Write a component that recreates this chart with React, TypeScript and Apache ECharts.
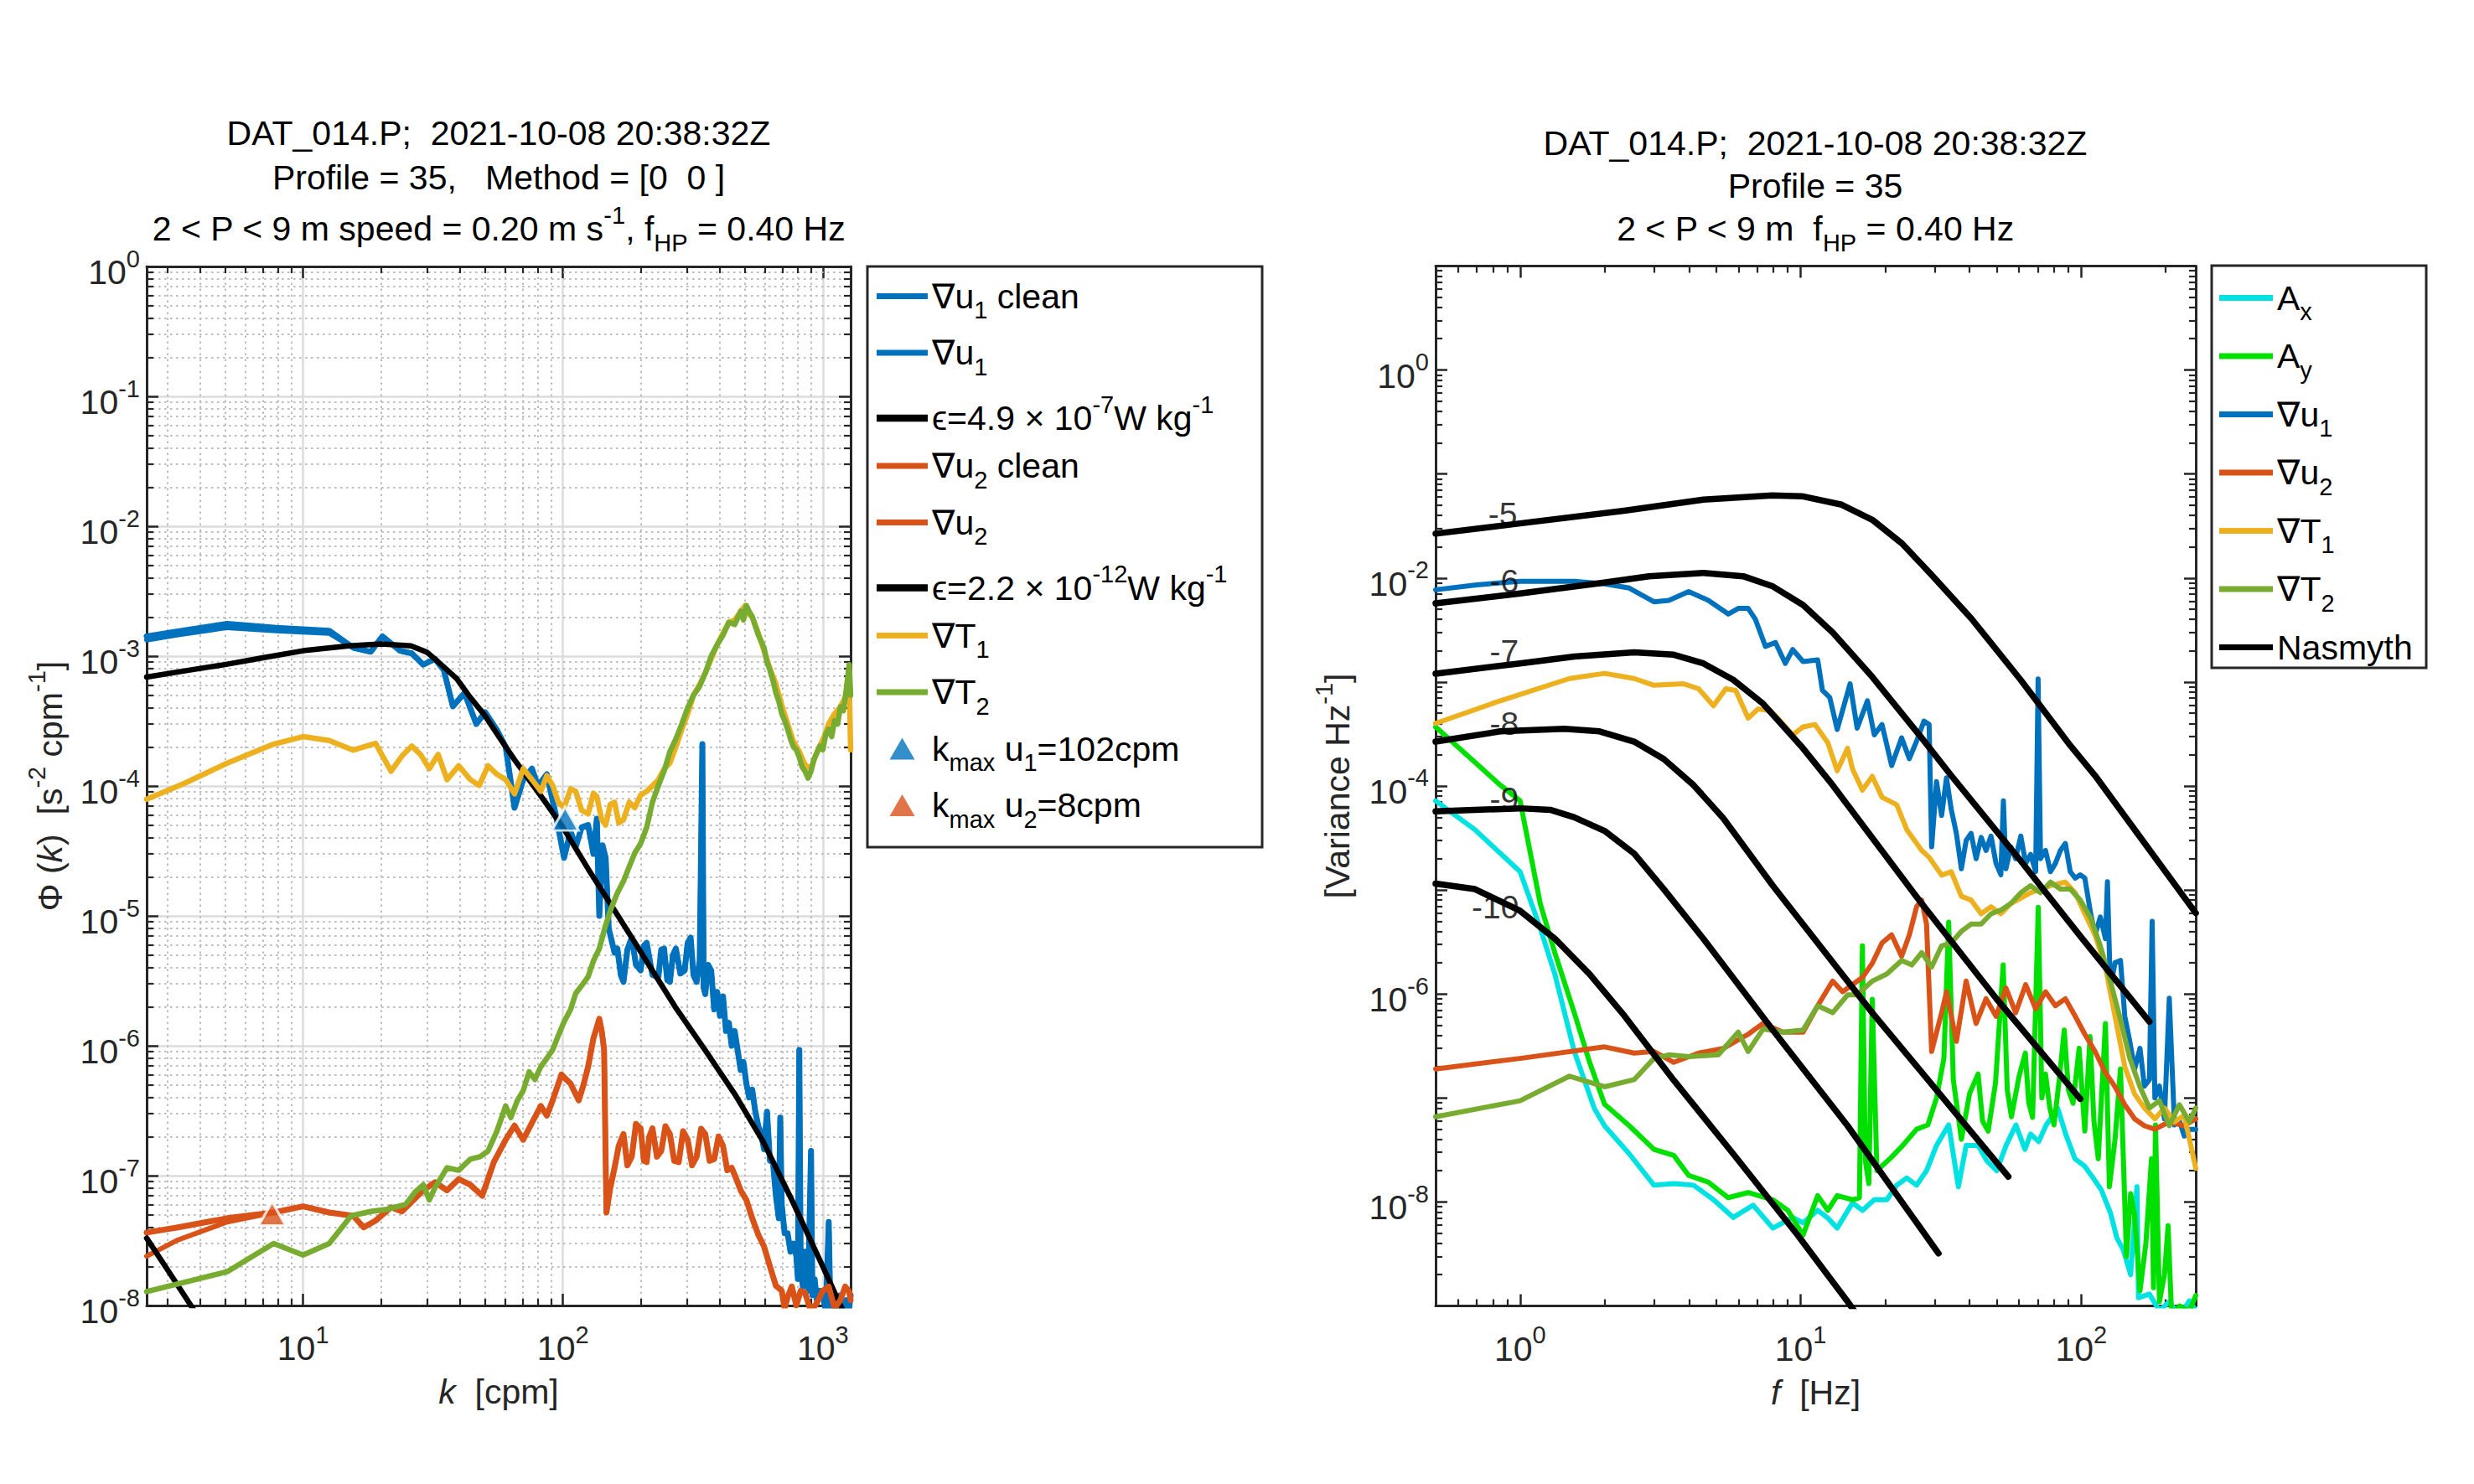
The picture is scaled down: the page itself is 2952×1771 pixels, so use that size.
import React, { useEffect, useRef } from 'react';
import * as echarts from 'echarts';

type Pt = [number, number];

// ---------------- axis ranges & tick labels ----------------
const K_RANGE: Pt = [2.5, 1280];      // k [cpm]
const PHI_RANGE: Pt = [1e-8, 1];      // Phi(k)
const F_RANGE: Pt = [0.5, 256];       // f [Hz]
const VAR_RANGE: Pt = [1e-9, 9.995];  // Variance Hz^-1 (top edge = 10^1)
const K_LABEL_EXP = [1, 2, 3];
const PHI_LABEL_EXP = [0, -1, -2, -3, -4, -5, -6, -7, -8];
const F_LABEL_EXP = [0, 1, 2];
const VAR_LABEL_EXP = [0, -2, -4, -6, -8];
const MINOR_MULT = [2, 3, 4, 5, 6, 7, 8, 9];

// ---------------- left panel: wavenumber spectra ----------------
const gradU1CleanL: Pt[] = [
  [2.5, 1.42e-3], [3.3, 1.55e-3], [5.1, 1.77e-3], [7.9, 1.65e-3], [12.6, 1.57e-3], [15.6, 1.16e-3], [18.2, 1.08e-3],
  [20.2, 1.42e-3], [23.6, 1.10e-3], [26.2, 1.05e-3], [29.0, 8.6e-4], [32.2, 9.5e-4], [34.8, 7.8e-4], [37.7, 4.1e-4],
  [41.8, 5.2e-4], [46.4, 3.0e-4], [50.2, 3.7e-4], [55.7, 2.7e-4], [60.2, 2.0e-4], [65.1, 6.8e-5], [70.3, 1.12e-4],
  [76.0, 1.36e-4], [80.1, 1.0e-4], [86.7, 1.23e-4], [93.7, 6.1e-5], [101, 2.8e-5], [107, 4.5e-5], [112, 3.4e-5],
  [118, 4.8e-5], [125, 5.0e-5], [131, 3.0e-5], [135, 5.6e-5], [138, 1.0e-5], [142, 3.5e-5], [146, 2.8e-5], [150, 8e-6],
  [153, 6.8e-6], [158, 5.2e-6], [162, 5.6e-6], [167, 3.5e-6], [171, 3.1e-6], [177, 5.5e-6], [184, 6.8e-6], [191, 4.2e-6],
  [199, 3.8e-6], [205, 5.9e-6], [210, 6.2e-6], [221, 3.5e-6], [233, 3.4e-6], [239, 5.5e-6], [245, 5.6e-6], [252, 3.2e-6],
  [258, 3.1e-6], [265, 5.0e-6], [272, 5.6e-6], [283, 3.6e-6], [294, 3.8e-6], [302, 6.2e-6], [310, 6.8e-6], [318, 3.5e-6],
  [327, 3.1e-6], [336, 4.5e-6], [344, 2.1e-4], [348, 2.8e-6], [353, 2.5e-6], [362, 4.2e-6], [372, 3.8e-6], [382, 1.9e-6],
  [392, 2.6e-6], [402, 1.7e-6], [413, 2.4e-6], [424, 1.3e-6], [435, 1.5e-6], [446, 1.0e-6], [458, 1.3e-6], [470, 9.3e-7],
  [483, 6.5e-7], [495, 7.5e-7], [508, 5.1e-7], [521, 4.0e-7], [535, 4.6e-7], [550, 3.1e-7], [565, 2.4e-7], [579, 2.1e-7],
  [594, 1.6e-7], [610, 3.1e-7], [626, 1.3e-7], [643, 1.27e-7], [660, 7e-8], [677, 4.7e-8], [686, 2.8e-7], [695, 6e-8],
  [713, 3.6e-8], [732, 3.6e-8], [751, 2.6e-8], [771, 3.0e-8], [791, 2.4e-8], [802, 1.6e-8], [812, 9.3e-7], [822, 2.0e-8],
  [838, 1.4e-8], [855, 2.6e-8], [878, 1.3e-8], [901, 1.55e-7], [912, 1.2e-8], [930, 1.6e-8], [949, 1.1e-8], [974, 1.3e-8],
  [1000, 1.2e-8], [1028, 9e-9], [1054, 4.4e-8], [1070, 9e-9], [1110, 1.05e-8], [1140, 8.5e-9], [1169, 1.2e-8],
  [1200, 9e-9], [1231, 1.1e-8], [1264, 9.5e-9], [1280, 1.2e-8],
];
const gradU1RawLowK: Pt[] = [[2.5, 1.33e-3], [3.3, 1.46e-3], [5.1, 1.66e-3], [7.9, 1.57e-3], [12.6, 1.50e-3]];
const gradU1RawL: Pt[] = [...gradU1RawLowK, ...gradU1CleanL.slice(5)];

const nasmythEps1L: Pt[] = [
  [2.5, 6.9e-4], [3.5, 7.7e-4], [5.0, 8.6e-4], [7.0, 9.7e-4], [10, 1.10e-3], [15, 1.2e-3], [20, 1.24e-3], [26, 1.20e-3],
  [30, 1.07e-3], [34, 8.6e-4], [39, 6.7e-4], [44, 4.8e-4], [50, 3.5e-4], [57, 2.36e-4], [65, 1.6e-4], [74, 1.12e-4],
  [86, 7.4e-5], [100, 4.8e-5], [125, 2.3e-5], [162, 1.02e-5], [208, 4.6e-6], [270, 2.0e-6], [352, 9.3e-7], [460, 4.2e-7],
  [592, 1.8e-7], [760, 6.5e-8], [1000, 2.0e-8], [1170, 1.0e-8], [1280, 7e-9],
];
const nasmythEps2L: Pt[] = [[2.5, 3.3e-8], [3.0, 1.9e-8], [3.7, 1.0e-8], [4.5, 5.5e-9]];

const gradU2CleanL: Pt[] = [
  [2.5, 3.65e-8], [3.3, 4.0e-8], [5.1, 4.7e-8], [7.7, 5.2e-8], [10, 5.8e-8], [12.6, 5.2e-8], [15.6, 4.9e-8], [17.1, 4.0e-8],
  [19, 4.5e-8], [21.8, 5.7e-8], [24, 5.3e-8], [26.2, 6.3e-8], [29, 7.7e-8], [32.2, 8.9e-8], [35.8, 7.7e-8], [39.7, 9.4e-8],
  [44, 8.5e-8], [48.9, 7.0e-8], [54.2, 1.27e-7], [60.2, 1.89e-7], [65.1, 2.43e-7], [70.3, 1.89e-7], [76, 2.55e-7],
  [82.2, 3.44e-7], [86.7, 2.9e-7], [91.3, 3.8e-7], [98.7, 6.0e-7], [103, 5.5e-7], [107, 5.1e-7], [115, 3.8e-7], [120, 5.0e-7],
  [125, 6.9e-7], [131, 1.14e-6], [138, 1.61e-6], [141, 1.3e-6], [144, 9.3e-7], [147, 5.2e-8], [152, 8e-8], [158, 1.15e-7],
  [164, 1.7e-7], [171, 2.09e-7], [177, 1.2e-7], [184, 1.4e-7], [191, 2.5e-7], [199, 2.31e-7], [205, 1.3e-7], [210, 1.27e-7],
  [215, 2.0e-7], [221, 2.31e-7], [230, 1.4e-7], [239, 1.55e-7], [248, 2.4e-7], [258, 2.09e-7], [268, 1.3e-7], [279, 1.27e-7],
  [290, 2.2e-7], [302, 1.89e-7], [314, 1.2e-7], [327, 1.4e-7], [340, 2.3e-7], [353, 2.09e-7], [367, 1.3e-7], [382, 1.34e-7],
  [397, 2.0e-7], [413, 1.7e-7], [429, 1.1e-7], [446, 1.15e-7], [464, 9.5e-8], [483, 7.7e-8], [508, 6.5e-8], [535, 4.7e-8],
  [565, 3.5e-8], [594, 2.85e-8], [626, 2.0e-8], [660, 1.42e-8], [695, 1.3e-8], [713, 9.5e-9], [732, 1.16e-8], [760, 1.4e-8],
  [791, 1.0e-8], [822, 1.3e-8], [855, 1.25e-8], [900, 9e-9], [949, 1.05e-8], [1000, 1.3e-8], [1054, 1.4e-8], [1110, 9.5e-9],
  [1169, 1.1e-8], [1220, 1.4e-8], [1264, 1.28e-8], [1280, 1.1e-8],
];
const gradU2RawLowK: Pt[] = [[2.5, 2.4e-8], [3.3, 3.2e-8], [5.1, 4.4e-8]];
const gradU2RawL: Pt[] = [...gradU2RawLowK, ...gradU2CleanL.slice(3)];

const gradT1L: Pt[] = [
  [2.5, 7.9e-5], [3.5, 1.05e-4], [5.1, 1.5e-4], [7.7, 2.1e-4], [10, 2.4e-4], [12.6, 2.24e-4], [15.6, 1.89e-4], [19, 2.13e-4],
  [21.8, 1.3e-4], [24, 1.7e-4], [26.2, 2.03e-4], [28.3, 1.75e-4], [30.6, 1.36e-4], [33.1, 1.75e-4], [35.8, 1.12e-4],
  [39.7, 1.43e-4], [44.0, 1.12e-4], [47.6, 1.01e-4], [51.5, 1.43e-4], [55.7, 1.23e-4], [60.2, 1.12e-4], [65.1, 8.7e-5],
  [70.3, 1.36e-4], [76.0, 1.12e-4], [82.2, 9.1e-5], [86.7, 1.2e-4], [91.3, 1.01e-4], [96, 7.5e-5], [101, 6.8e-5],
  [107, 9.5e-5], [112, 9.1e-5], [118, 6.5e-5], [125, 6.1e-5], [131, 8.8e-5], [135, 8.3e-5], [141, 5.5e-5], [146, 5.0e-5],
  [152, 7.2e-5], [158, 7.5e-5], [164, 5.2e-5], [171, 5.5e-5], [180, 7.5e-5], [189, 6.8e-5], [199, 8.5e-5], [210, 9.1e-5],
  [221, 1.0e-4], [233, 1.12e-4], [245, 1.35e-4], [258, 1.5e-4], [272, 2.0e-4], [287, 2.74e-4], [302, 3.6e-4], [318, 5.0e-4],
  [335, 6.0e-4], [353, 7.4e-4], [372, 9.5e-4], [392, 1.22e-3], [413, 1.5e-3], [435, 1.82e-3], [458, 1.9e-3], [483, 2.2e-3],
  [503, 2.45e-3], [520, 2.1e-3], [535, 2.01e-3], [565, 1.5e-3], [594, 1.10e-3], [626, 8.0e-4], [660, 6.1e-4], [695, 4.2e-4],
  [732, 3.02e-4], [771, 2.2e-4], [812, 1.84e-4], [855, 1.45e-4], [901, 1.36e-4], [937, 1.7e-4], [974, 2.03e-4],
  [1013, 2.4e-4], [1054, 3.02e-4], [1110, 3.6e-4], [1169, 4.07e-4], [1231, 5.0e-4], [1264, 6.1e-4], [1280, 1.9e-4],
];
const gradT2L: Pt[] = [
  [2.5, 1.28e-8], [5.1, 1.82e-8], [7.7, 3.0e-8], [10, 2.45e-8], [12.6, 3.0e-8], [15.3, 4.9e-8], [18.2, 5.3e-8], [21, 5.5e-8],
  [24.8, 6.0e-8], [27, 7.5e-8], [29, 8.5e-8], [30.6, 6.5e-8], [32.2, 8.1e-8], [35.8, 1.15e-7], [39.7, 1.1e-7], [44, 1.34e-7],
  [48, 1.4e-7], [51.5, 1.55e-7], [55.7, 2.2e-7], [60.2, 3.44e-7], [63, 2.8e-7], [66.8, 3.8e-7], [70.3, 4.5e-7], [74.1, 6.3e-7],
  [78, 5.5e-7], [82.2, 6.9e-7], [86.7, 8.0e-7], [91.3, 9.3e-7], [96, 1.2e-6], [101, 1.53e-6], [107, 1.9e-6], [112, 2.53e-6],
  [118, 2.9e-6], [125, 3.4e-6], [131, 4.5e-6], [138, 5.6e-6], [146, 8.5e-6], [153, 1.13e-5], [162, 1.5e-5], [171, 1.85e-5],
  [180, 2.4e-5], [189, 3.05e-5], [199, 3.6e-5], [210, 4.8e-5], [221, 7.5e-5], [233, 1.01e-4], [245, 1.3e-4], [258, 1.84e-4],
  [272, 2.3e-4], [287, 3.02e-4], [302, 4.0e-4], [318, 5.0e-4], [335, 5.8e-4], [353, 7.4e-4], [372, 1.0e-3], [392, 1.22e-3],
  [413, 1.45e-3], [435, 1.82e-3], [458, 1.75e-3], [483, 2.22e-3], [495, 1.9e-3], [508, 2.45e-3], [521, 2.2e-3], [535, 2.01e-3],
  [550, 1.7e-3], [565, 1.45e-3], [579, 1.3e-3], [594, 1.16e-3], [610, 9.0e-4], [626, 7.8e-4], [643, 6.5e-4], [660, 5.2e-4],
  [677, 4.5e-4], [695, 3.6e-4], [713, 3.2e-4], [732, 2.74e-4], [751, 2.3e-4], [771, 2.0e-4], [791, 1.9e-4], [812, 1.66e-4],
  [833, 1.4e-4], [855, 1.3e-4], [878, 1.15e-4], [901, 1.3e-4], [924, 1.6e-4], [949, 1.8e-4], [974, 2.03e-4], [1000, 1.9e-4],
  [1027, 2.5e-4], [1054, 2.74e-4], [1082, 2.4e-4], [1110, 3.2e-4], [1140, 3.0e-4], [1169, 4.07e-4], [1200, 3.8e-4],
  [1231, 5.5e-4], [1264, 8.6e-4], [1280, 5.0e-4],
];
const kmaxU1: Pt[] = [[102, 5.6e-5]];
const kmaxU2: Pt[] = [[7.6, 5.1e-8]];

// ---------------- right panel: frequency spectra ----------------
const accXR: Pt[] = [
  [0.5, 7.2e-5], [0.69, 3.8e-5], [1, 1.5e-5], [1.18, 4.3e-6], [1.33, 1.55e-6], [1.56, 2.8e-7], [1.84, 7.9e-8], [2.0, 5.4e-8],
  [2.45, 2.9e-8], [3.0, 1.45e-8], [3.53, 1.5e-8], [4.15, 1.45e-8], [4.89, 1.05e-8], [5.75, 7.1e-9], [6.77, 9.3e-9],
  [7.96, 5.6e-9], [9.37, 7.1e-9], [10.2, 6.3e-9], [11.5, 8.3e-9], [12.5, 7.0e-9], [13.5, 5.6e-9], [15.3, 9.8e-9],
  [16.6, 8.3e-9], [18.3, 1.05e-8], [20.3, 1.05e-8], [22.0, 1.45e-8], [23.9, 1.7e-8], [25.9, 1.45e-8], [28.1, 2.0e-8],
  [30.5, 3.5e-8], [33.7, 5.5e-8], [36.5, 1.4e-8], [38.9, 3.5e-8], [42.9, 3.5e-8], [46, 2.5e-8], [50, 2.0e-8], [54, 3.5e-8],
  [58.5, 5.5e-8], [63, 3.2e-8], [66, 4.5e-8], [70.5, 3.8e-8], [75, 5.5e-8], [82.6, 7.9e-8], [88, 4.5e-8], [95, 2.6e-8],
  [103, 2.2e-8], [111, 1.66e-8], [118, 1.3e-8], [127, 7.9e-9], [134, 4.5e-9], [141, 3.5e-9], [150, 2.0e-9], [158, 1.4e-8],
  [160, 1.2e-9], [175, 1.3e-9], [190, 9e-10], [206, 1.1e-9], [224, 8e-10], [243, 1.12e-9], [256, 9e-10],
];
const accYR: Pt[] = [
  [0.5, 3.7e-4], [0.85, 1.02e-4], [1, 7.2e-5], [1.18, 7.4e-6], [1.33, 2.5e-6], [1.56, 6.6e-7], [1.77, 2.2e-7], [2.0, 8.7e-8],
  [2.45, 5.4e-8], [3.0, 3.2e-8], [3.53, 2.8e-8], [3.99, 1.8e-8], [4.69, 1.55e-8], [5.52, 1.1e-8], [6.5, 1.23e-8],
  [7.96, 1.05e-8], [9.0, 8.3e-9], [10.2, 4.8e-9], [11.5, 1.15e-8], [12.5, 8.3e-9], [13.5, 1.15e-8], [15.3, 1.05e-8],
  [16.2, 1.1e-8], [16.6, 2.9e-6], [17.0, 2.5e-8], [17.5, 1.5e-8], [18.0, 8.9e-7], [18.7, 2.0e-8], [21.1, 2.7e-8],
  [22.9, 3.4e-8], [25.9, 5.0e-8], [28.4, 5.5e-8], [30.5, 1.0e-7], [32.4, 2.4e-7], [33.7, 4.9e-6], [35.0, 1.5e-7],
  [37.4, 4.0e-8], [40, 1.1e-7], [42.9, 1.7e-7], [44.5, 6e-8], [46.6, 4.8e-8], [49.5, 1.4e-7], [52.7, 1.9e-6], [54.5, 1.2e-7],
  [56.4, 6.6e-8], [60, 1.6e-7], [63.2, 2.7e-7], [65, 9e-8], [67.1, 6.5e-8], [70.3, 6.8e-6], [72.4, 1.0e-7], [74.6, 1.7e-7],
  [77.3, 8e-8], [80, 5.5e-8], [83.5, 1.5e-7], [87.0, 4.5e-7], [90, 1.2e-7], [93.5, 8.9e-8], [98.3, 3.0e-7], [103, 4.8e-8],
  [107.5, 3.9e-7], [111, 6e-8], [115, 2.6e-8], [122, 5.2e-7], [126, 1.4e-8], [132, 4e-8], [138, 1.9e-7], [145, 3e-9],
  [150, 1.2e-8], [155, 7.4e-9], [162, 1.4e-9], [170, 4e-9], [178, 2.6e-8], [181, 1.5e-9], [184, 5.5e-8], [190, 1.1e-9],
  [198, 2e-9], [204, 5.9e-9], [210, 8e-10], [224, 1.0e-9], [243, 8.9e-10], [256, 1.26e-9],
];
const gradU1R: Pt[] = [
  [0.5, 7.7e-3], [0.7, 8.6e-3], [1, 9.3e-3], [1.56, 9.3e-3], [2.0, 8.8e-3], [2.45, 8.0e-3], [3.0, 5.9e-3], [3.39, 6.1e-3],
  [3.99, 7.4e-3], [4.69, 6.1e-3], [5.52, 4.5e-3], [5.99, 5.1e-3], [6.5, 5.1e-3], [6.9, 4.0e-3], [7.49, 2.2e-3], [8.13, 2.4e-3],
  [8.82, 1.51e-3], [9.37, 2.05e-3], [10.2, 1.57e-3], [11.5, 1.63e-3], [11.96, 8.3e-4], [12.7, 7.1e-4], [13.5, 3.5e-4],
  [15.0, 9.6e-4], [15.9, 3.6e-4], [17.3, 6.6e-4], [18.3, 3.1e-4], [19.5, 3.9e-4], [21.1, 1.57e-4], [22.9, 2.9e-4],
  [24.4, 1.83e-4], [25.9, 2.7e-4], [27.5, 4.2e-4], [28.7, 3.9e-4], [29.3, 2.6e-5], [30.5, 1.1e-4], [31.8, 5.2e-5],
  [33.1, 1.2e-4], [34.4, 6.0e-5], [35.9, 3.5e-5], [37.4, 1.6e-5], [38.9, 3.0e-5], [40.5, 3.5e-5], [42.2, 2.0e-5],
  [44.0, 3.2e-5], [45.8, 2.4e-5], [47.7, 3.3e-5], [49.7, 1.8e-5], [51.7, 1.4e-5], [52.8, 7.2e-5], [53.9, 1.6e-5],
  [56.1, 2.6e-5], [58.4, 2.0e-5], [60.9, 3.3e-5], [63.4, 1.8e-5], [66.0, 2.2e-5], [68.8, 1.5e-5], [70.2, 1.07e-3],
  [71.6, 2.0e-5], [74.6, 2.4e-5], [77.7, 1.5e-5], [80.9, 1.8e-5], [84.3, 2.4e-5], [87.8, 2.8e-5], [91.4, 1.5e-5],
  [95.2, 1.3e-5], [99.2, 1.4e-5], [103, 1.3e-5], [108, 6.0e-6], [112, 3.7e-6], [117, 5.5e-6], [122, 3.4e-6], [124, 1.2e-5],
  [127, 1.15e-6], [132, 2.0e-6], [138, 2.1e-6], [143, 6.1e-7], [149, 3.5e-7], [155, 1.9e-7], [162, 3.0e-7], [168, 1.3e-7],
  [175, 1.5e-7], [179, 5.0e-6], [183, 1.0e-7], [190, 1.3e-7], [198, 6.3e-8], [206, 9.1e-7], [215, 5.5e-8], [224, 6.0e-8],
  [233, 4.3e-8], [243, 5.0e-8], [256, 5.0e-8],
];
const gradU2R: Pt[] = [
  [0.5, 1.9e-7], [1, 2.4e-7], [2.0, 3.1e-7], [2.55, 2.7e-7], [3.0, 2.8e-7], [3.53, 2.2e-7], [4.33, 2.7e-7], [5.3, 3.0e-7],
  [6.5, 4.1e-7], [7.34, 5.2e-7], [8.64, 4.3e-7], [10.2, 4.3e-7], [11.5, 7.7e-7], [13.0, 1.33e-6], [14.1, 1.05e-6],
  [15.3, 1.23e-6], [16.6, 1.44e-6], [18.0, 1.97e-6], [19.5, 3.1e-6], [21.1, 3.7e-6], [22.9, 2.3e-6], [24.4, 3.7e-6],
  [25.9, 6.9e-6], [27.0, 8.0e-6], [28.1, 4.7e-6], [29.3, 2.8e-7], [31.8, 6.6e-7], [33.1, 1.05e-6], [35.9, 3.5e-7],
  [38.9, 1.33e-6], [42.2, 5.2e-7], [45.8, 9.0e-7], [49.7, 6.1e-7], [53.9, 1.14e-6], [58.4, 6.6e-7], [63.4, 1.23e-6],
  [68.8, 7.2e-7], [74.6, 1.05e-6], [80.9, 7.7e-7], [87.8, 9.0e-7], [95.2, 6.1e-7], [103, 4.1e-7], [112, 2.8e-7],
  [122, 1.75e-7], [132, 1.28e-7], [143, 8.6e-8], [155, 6.3e-8], [168, 5.4e-8], [183, 5.0e-8], [206, 5.9e-8], [233, 5.4e-8],
  [256, 6.3e-8],
];
const gradT1R: Pt[] = [
  [0.5, 4.0e-4], [0.85, 6.6e-4], [1.5, 1.08e-3], [2.0, 1.21e-3], [2.55, 1.08e-3], [3.0, 9.3e-4], [3.83, 9.6e-4], [4.33, 8.6e-4],
  [4.89, 5.9e-4], [5.41, 8.6e-4], [5.87, 8.3e-4], [6.5, 4.5e-4], [7.05, 5.5e-4], [7.8, 5.3e-4], [8.47, 4.2e-4], [9.37, 3.1e-4],
  [10.2, 3.7e-4], [11.25, 3.9e-4], [12.5, 2.6e-4], [13.5, 1.4e-4], [14.7, 2.3e-4], [15.3, 1.46e-4], [16.6, 9.1e-5],
  [18.0, 1.24e-4], [19.5, 7.8e-5], [22.0, 6.6e-5], [23.9, 3.8e-5], [27.0, 2.4e-5], [28.7, 2.06e-5], [31.8, 1.39e-5],
  [34.4, 1.5e-5], [37.4, 8.7e-6], [40.5, 8.0e-6], [44.0, 5.9e-6], [47.7, 6.9e-6], [51.7, 5.9e-6], [56.1, 7.4e-6],
  [66.0, 9.4e-6], [77.7, 1.1e-5], [87.8, 1.19e-5], [95.2, 9.4e-6], [103, 5.9e-6], [112, 3.7e-6], [122, 1.8e-6], [132, 6.1e-7],
  [143, 2.0e-7], [155, 1.09e-7], [168, 8.0e-8], [183, 6.3e-8], [198, 8.0e-8], [215, 5.9e-8], [233, 6.8e-8], [256, 2.1e-8],
];
const gradT2R: Pt[] = [
  [0.5, 6.6e-8], [1, 9.4e-8], [1.5, 1.62e-7], [2.0, 1.28e-7], [2.55, 1.5e-7], [3.0, 2.4e-7], [3.39, 2.6e-7], [3.99, 2.5e-7],
  [5.09, 2.6e-7], [5.99, 4.3e-7], [6.5, 2.8e-7], [7.34, 4.6e-7], [8.64, 4.3e-7], [10.2, 4.5e-7], [11.5, 7.7e-7], [13.0, 6.6e-7],
  [14.7, 9.8e-7], [15.9, 9.8e-7], [18.0, 1.33e-6], [20.3, 1.56e-6], [22.9, 2.1e-6], [24.9, 1.9e-6], [27.0, 2.5e-6],
  [29.3, 1.82e-6], [31.8, 2.9e-6], [34.4, 3.1e-6], [37.4, 4.0e-6], [40.5, 4.7e-6], [44.0, 4.7e-6], [47.7, 5.9e-6],
  [51.7, 6.4e-6], [56.1, 7.4e-6], [60.9, 9.4e-6], [66.0, 1.1e-5], [71.6, 9.4e-6], [77.7, 1.19e-5], [84.3, 1.02e-5],
  [91.4, 1.02e-5], [99.2, 8.0e-6], [108, 5.4e-6], [117, 2.9e-6], [127, 1.33e-6], [137, 6.1e-7], [149, 2.4e-7], [162, 1.28e-7],
  [175, 8.0e-8], [190, 9.4e-8], [206, 5.4e-8], [224, 8.6e-8], [243, 5.9e-8], [256, 8.0e-8],
];
const nasmyth5R: Pt[] = [
  [0.5, 0.0267], [1, 0.0335], [2.35, 0.0443], [4.5, 0.0568], [7.9, 0.0621], [10.1, 0.0612], [14, 0.0507], [18, 0.0363],
  [23, 0.0214], [29.3, 0.0107], [40.6, 4.07e-3], [60.8, 1.05e-3], [91.4, 2.45e-4], [112, 1.26e-4], [256, 6.0e-6],
];
const nasmyth6R: Pt[] = [
  [0.5, 5.7e-3], [1, 7.1e-3], [1.92, 8.9e-3], [2.88, 0.0104], [4.5, 0.0112], [6.24, 0.0104], [7.96, 8.3e-3], [10.2, 5.5e-3],
  [13, 3.0e-3], [18, 1.12e-3], [27, 2.9e-4], [34.4, 1.26e-4], [60.9, 1.9e-5], [99.2, 3.6e-6], [175, 5.4e-7],
];
const nasmyth7R: Pt[] = [
  [0.5, 1.2e-3], [1, 1.51e-3], [1.56, 1.76e-3], [2.55, 1.93e-3], [3.53, 1.83e-3], [4.5, 1.51e-3], [5.75, 1.05e-3],
  [7.34, 6.2e-4], [10.2, 2.3e-4], [13, 1.02e-4], [27, 7.4e-6], [49.7, 9.1e-7], [99.2, 9.8e-8],
];
const nasmyth8R: Pt[] = [
  [0.5, 2.67e-4], [0.85, 3.35e-4], [1.44, 3.55e-4], [1.92, 3.35e-4], [2.55, 2.67e-4], [3.25, 1.82e-4], [4.15, 1.02e-4],
  [5.3, 4.9e-5], [7.96, 1.1e-5], [18, 6.6e-7], [55, 1.75e-8],
];
const nasmyth9R: Pt[] = [
  [0.5, 5.7e-5], [1, 6.1e-5], [1.28, 5.9e-5], [1.56, 5.0e-5], [2.0, 3.7e-5], [2.55, 2.24e-5], [3.25, 1.02e-5], [4.5, 3.4e-6],
  [7.96, 4.5e-7], [14.7, 5.4e-8], [31, 3.2e-9],
];
const nasmyth10R: Pt[] = [
  [0.5, 1.15e-5], [0.69, 1.02e-5], [1, 6.3e-6], [1.33, 3.4e-6], [1.77, 1.55e-6], [2.35, 6.2e-7], [3.53, 1.48e-7],
  [5.75, 2.9e-8], [9.76, 4.8e-9], [14.7, 1.1e-9], [16, 8e-10],
];
const nasmythLabelText = ['-5', '-6', '-7', '-8', '-9', '-10'];
const nasmythLabelF = [0.867, 0.878, 0.878, 0.878, 0.878, 0.816];
const nasmythLabelV = [0.0413, 9.4e-3, 1.97e-3, 4.0e-4, 7.5e-5, 6.9e-6];

// ---------------- styling ----------------
const FONT = '"Liberation Sans", Arial, Helvetica, "DejaVu Sans", sans-serif';
const AX = '#262626';
const BLUE = '#0072BD', RED = '#D95319', YEL = '#EDB120', GRN = '#77AC30', CYAN = '#00e2e2', LIME = '#00e000', BLK = '#000000';

const G0 = { left: 175, top: 318, width: 840, height: 1240 };
const G1 = { left: 1713, top: 317.5, width: 907, height: 1241 };

function richSet(color: string) {
  const base = { fontFamily: FONT, color, fontWeight: 'normal' };
  return {
    b: { ...base, fontSize: 41, lineHeight: 62 },
    i: { ...base, fontSize: 41, lineHeight: 62, fontStyle: 'italic' },
    sup: { ...base, fontSize: 29, lineHeight: 29, verticalAlign: 'top' },
    sub: { ...base, fontSize: 29, lineHeight: 29, verticalAlign: 'bottom' },
  };
}

const LEGEND_TEXT: Record<string, string> = {
  gu1c: '{b|∇u}{sub|1}{b| clean}',
  gu1: '{b|∇u}{sub|1}',
  eps1: '{b|ϵ=4.9 × 10}{sup|-7}{b|W kg}{sup|-1}',
  gu2c: '{b|∇u}{sub|2}{b| clean}',
  gu2: '{b|∇u}{sub|2}',
  eps2: '{b|ϵ=2.2 × 10}{sup|-12}{b|W kg}{sup|-1}',
  gt1: '{b|∇T}{sub|1}',
  gt2: '{b|∇T}{sub|2}',
  km1: '{b|k}{sub|max}{b| u}{sub|1}{b|=102cpm}',
  km2: '{b|k}{sub|max}{b| u}{sub|2}{b|=8cpm}',
  ax: '{b|A}{sub|x}',
  ay: '{b|A}{sub|y}',
  ru1: '{b|∇u}{sub|1}',
  ru2: '{b|∇u}{sub|2}',
  rt1: '{b|∇T}{sub|1}',
  rt2: '{b|∇T}{sub|2}',
  nas: '{b|Nasmyth}',
};

const TITLE_L = [
  '{b|DAT_014.P;  2021-10-08 20:38:32Z}',
  '{b|Profile = 35,   Method = [0  0 ]}',
  '{b|2 < P < 9 m speed = 0.20 m s}{sup|-1}{b|, f}{sub|HP}{b| = 0.40 Hz}',
];
const TITLE_R = [
  '{b|DAT_014.P;  2021-10-08 20:38:32Z}',
  '{b|Profile = 35}',
  '{b|2 < P < 9 m  f}{sub|HP}{b| = 0.40 Hz}',
];

function minorVals(r: Pt): number[] {
  const out: number[] = [];
  const e0 = Math.floor(Math.log10(r[0]));
  const e1 = Math.ceil(Math.log10(r[1]));
  for (let e = e0; e <= e1; e++) {
    for (const m of MINOR_MULT) {
      const v = +(m * Math.pow(10, e)).toPrecision(6);
      if (v > r[0] * 1.001 && v < r[1] / 1.001) out.push(v);
    }
  }
  return out;
}

function tickSegs(xr: Pt, yr: Pt, g: { width: number; height: number }, lenPx: number) {
  const dx = Math.pow(10, (lenPx * Math.log10(xr[1] / xr[0])) / g.width);
  const dy = Math.pow(10, (lenPx * Math.log10(yr[1] / yr[0])) / g.height);
  const x0 = xr[0] * 1.0005, x1 = xr[1] / 1.0005, y0 = yr[0] * 1.0005, y1 = yr[1] / 1.0005;
  const segs: any[] = [];
  for (const x of minorVals(xr)) {
    segs.push([{ coord: [x, y0] }, { coord: [x, y0 * dy] }]);
    segs.push([{ coord: [x, y1] }, { coord: [x, y1 / dy] }]);
  }
  for (const y of minorVals(yr)) {
    segs.push([{ coord: [x0, y] }, { coord: [x0 * dx, y] }]);
    segs.push([{ coord: [x1, y] }, { coord: [x1 / dx, y] }]);
  }
  return segs;
}

function gridSegs(xr: Pt, yr: Pt) {
  const x0 = xr[0] * 1.0005, x1 = xr[1] / 1.0005, y0 = yr[0] * 1.0005, y1 = yr[1] / 1.0005;
  const segs: any[] = [];
  for (const x of minorVals(xr)) segs.push([{ coord: [x, y0] }, { coord: [x, y1] }]);
  for (const y of minorVals(yr)) segs.push([{ coord: [x0, y] }, { coord: [x1, y] }]);
  return segs;
}

function logAxis(o: {
  grid: number; pos: string; range: Pt; exps?: number[]; name?: string; nameGap?: number; rotate?: boolean; split?: boolean; isY?: boolean;
}) {
  const ax: any = {
    type: 'log', logBase: 10, gridIndex: o.grid, position: o.pos, min: o.range[0], max: o.range[1], splitNumber: 10,
    axisLine: { show: true, onZero: false, lineStyle: { color: AX, width: 3 } },
    axisTick: { show: true, inside: true, length: 14, lineStyle: { color: AX, width: 2.5 } },
    minorTick: { show: false },
    minorSplitLine: { show: false },
    splitLine: { show: !!o.split, lineStyle: { color: '#dcdcdc', width: 2.5, type: 'solid' } },
    axisLabel: { show: false },
    axisPointer: { show: false },
    silent: true,
  };
  if (o.exps) {
    const exps = o.exps;
    ax.axisLabel = {
      show: true,
      margin: o.isY ? 8 : 20,
      padding: o.isY ? [14, 0, 0, 0] : 0,
      formatter: (v: number) => {
        const e = Math.log10(v);
        const r = Math.round(e);
        if (Math.abs(e - r) > 1e-3 || !exps.includes(r)) return '';
        return `{b|10}{sup|${r === 0 ? 0 : r}}`;
      },
      rich: richSet(AX),
    };
  }
  if (o.name) {
    ax.name = o.name;
    ax.nameLocation = 'middle';
    ax.nameGap = o.nameGap;
    ax.nameRotate = o.rotate ? 90 : 0;
    ax.nameMoveOverlap = false;
    ax.nameTextStyle = { rich: richSet(AX) };
  }
  return ax;
}

function ln(name: string, data: Pt[], color: string, width: number, g: number, z = 2) {
  return {
    type: 'line', name, data, xAxisIndex: g * 2, yAxisIndex: g * 2, color,
    showSymbol: false, symbol: 'none', clip: true, z, silent: true,
    lineStyle: { color, width, join: 'round', cap: 'round' },
    itemStyle: { color },
    emphasis: { disabled: true },
  };
}

function tri(name: string, data: Pt[], color: string) {
  return {
    type: 'scatter', name, data, xAxisIndex: 0, yAxisIndex: 0, symbol: 'triangle', symbolSize: [32, 28], z: 4, silent: true,
    itemStyle: { color, borderColor: '#ffffff', borderWidth: 3 },
    emphasis: { disabled: true },
  };
}

function segSeries(name: string, g: number, segs: any[], lineStyle: any) {
  return {
    type: 'line', name, data: [], xAxisIndex: g * 2, yAxisIndex: g * 2, silent: true, symbol: 'none',
    markLine: {
      silent: true, symbol: ['none', 'none'], precision: 20, z: 1, animation: false,
      label: { show: false }, emphasis: { disabled: true }, lineStyle, data: segs,
    },
  };
}

const LINE_ICON_L = 'path://M0 0H61V7H0Z';
const BLACK_ICON_L = 'path://M0 0H61V8.5H0Z';
const TRI_ICON = 'path://M15 0L30 26L0 26Z';
const LINE_ICON_R = 'path://M0 0H64V7H0Z';

function buildOption() {
  const titles: any[] = [];
  const tl = [128, 181, 242];
  const tr = [140, 191, 242];
  TITLE_L.forEach((t, i) => titles.push({ text: t, left: 595, top: tl[i], textAlign: 'center', padding: 0, textStyle: { fontWeight: 'normal', rich: richSet('#000') } }));
  TITLE_R.forEach((t, i) => titles.push({ text: t, left: 2166, top: tr[i], textAlign: 'center', padding: 0, textStyle: { fontWeight: 'normal', rich: richSet('#000') } }));

  const series: any[] = [
    segSeries('_gridL', 0, gridSegs(K_RANGE, PHI_RANGE), { color: '#bdbdbd', width: 2, type: [2.5, 4.5] }),
    segSeries('_ticksL', 0, tickSegs(K_RANGE, PHI_RANGE, G0, 8), { color: AX, width: 2.2, type: 'solid' }),
    segSeries('_ticksR', 1, tickSegs(F_RANGE, VAR_RANGE, G1, 8), { color: AX, width: 2.2, type: 'solid' }),

    ln('gu1c', gradU1CleanL, BLUE, 7, 0),
    ln('gu1', gradU1RawL, BLUE, 6, 0),
    ln('eps1', nasmythEps1L, BLK, 6.5, 0),
    ln('gu2c', gradU2CleanL, RED, 7, 0),
    ln('gu2', gradU2RawL, RED, 6, 0),
    ln('eps2', nasmythEps2L, BLK, 6.5, 0),
    ln('gt1', gradT1L, YEL, 6.5, 0),
    ln('gt2', gradT2L, GRN, 6.5, 0),
    tri('km1', kmaxU1, BLUE),
    tri('km2', kmaxU2, RED),

    ln('ax', accXR, CYAN, 6, 1),
    ln('ay', accYR, LIME, 6, 1),
    ln('ru1', gradU1R, BLUE, 6, 1),
    ln('ru2', gradU2R, RED, 6, 1),
    ln('rt1', gradT1R, YEL, 6, 1),
    ln('rt2', gradT2R, GRN, 6, 1),
    ln('nas', nasmyth5R, BLK, 7.5, 1, 3),
    ln('nas', nasmyth6R, BLK, 7.5, 1, 3),
    ln('nas', nasmyth7R, BLK, 7.5, 1, 3),
    ln('nas', nasmyth8R, BLK, 7.5, 1, 3),
    ln('nas', nasmyth9R, BLK, 7.5, 1, 3),
    ln('nas', nasmyth10R, BLK, 7.5, 1, 3),
    {
      type: 'scatter', name: '_nasLabels', xAxisIndex: 2, yAxisIndex: 2, silent: true, z: 5, symbolSize: 1,
      itemStyle: { color: 'rgba(0,0,0,0)' },
      data: nasmythLabelText.map((t, i) => ({ value: [nasmythLabelF[i], nasmythLabelV[i]], label: { formatter: t } })),
      label: { show: true, position: 'inside', fontSize: 39, color: '#000', fontFamily: FONT },
      emphasis: { disabled: true },
    },
  ];

  return {
    animation: false,
    backgroundColor: '#ffffff',
    textStyle: { fontFamily: FONT },
    title: titles,
    grid: [
      { ...G0, containLabel: false, outerBoundsMode: 'none', show: false },
      { ...G1, containLabel: false, outerBoundsMode: 'none', show: false },
    ],
    xAxis: [
      logAxis({ grid: 0, pos: 'bottom', range: K_RANGE, exps: K_LABEL_EXP, name: '{i|k}{b|  [cpm]}', nameGap: 72, split: true }),
      logAxis({ grid: 0, pos: 'top', range: K_RANGE }),
      logAxis({ grid: 1, pos: 'bottom', range: F_RANGE, exps: F_LABEL_EXP, name: '{i|f}{b|  [Hz]}', nameGap: 72 }),
      logAxis({ grid: 1, pos: 'top', range: F_RANGE }),
    ],
    yAxis: [
      logAxis({ grid: 0, pos: 'left', range: PHI_RANGE, exps: PHI_LABEL_EXP, isY: true, split: true,
        name: '{b|Φ (}{i|k}{b|)  [s}{sup|-2}{b| cpm}{sup|-1}{b|]}', nameGap: 84, rotate: true }),
      logAxis({ grid: 0, pos: 'right', range: PHI_RANGE }),
      logAxis({ grid: 1, pos: 'left', range: VAR_RANGE, exps: VAR_LABEL_EXP, isY: true,
        name: '{b|[Variance Hz}{sup|-1}{b|]}', nameGap: 86, rotate: true }),
      logAxis({ grid: 1, pos: 'right', range: VAR_RANGE }),
    ],
    legend: [
      {
        orient: 'vertical', left: 1046, top: 333, padding: 0, itemGap: 16, itemWidth: 61, itemHeight: 26,
        symbolKeepAspect: true, selectedMode: false,
        data: [
          { name: 'gu1c', icon: LINE_ICON_L }, { name: 'gu1', icon: LINE_ICON_L }, { name: 'eps1', icon: BLACK_ICON_L },
          { name: 'gu2c', icon: LINE_ICON_L }, { name: 'gu2', icon: LINE_ICON_L }, { name: 'eps2', icon: BLACK_ICON_L },
          { name: 'gt1', icon: LINE_ICON_L }, { name: 'gt2', icon: LINE_ICON_L },
          { name: 'km1', icon: TRI_ICON }, { name: 'km2', icon: TRI_ICON },
        ],
        formatter: (n: string) => LEGEND_TEXT[n] || n,
        textStyle: { rich: richSet('#000') },
        itemStyle: { borderWidth: 0 },
      },
      {
        orient: 'vertical', left: 2648, top: 335, padding: 0, itemGap: 18, itemWidth: 64, itemHeight: 7,
        symbolKeepAspect: true, selectedMode: false,
        data: ['ax', 'ay', 'ru1', 'ru2', 'rt1', 'rt2', 'nas'].map((n) => ({ name: n, icon: LINE_ICON_R })),
        formatter: (n: string) => LEGEND_TEXT[n] || n,
        textStyle: { rich: richSet('#000') },
      },
    ],
    graphic: [
      { type: 'rect', z: 10, silent: true, shape: { x: 1035, y: 318, width: 471, height: 693 }, style: { fill: 'none', stroke: AX, lineWidth: 3 } },
      { type: 'rect', z: 10, silent: true, shape: { x: 2639, y: 317, width: 256, height: 480 }, style: { fill: 'none', stroke: AX, lineWidth: 3 } },
    ],
    series,
  };
}

export default function App() {
  const ref = useRef<HTMLDivElement>(null);
  useEffect(() => {
    if (!ref.current) return;
    const chart = echarts.init(ref.current, null, { renderer: 'svg' });
    chart.setOption(buildOption() as any);
    return () => chart.dispose();
  }, []);
  return (
    <div
      ref={ref}
      style={{ position: 'fixed', left: 0, top: 0, width: '2952px', height: '1771px', background: '#fff' }}
    />
  );
}
